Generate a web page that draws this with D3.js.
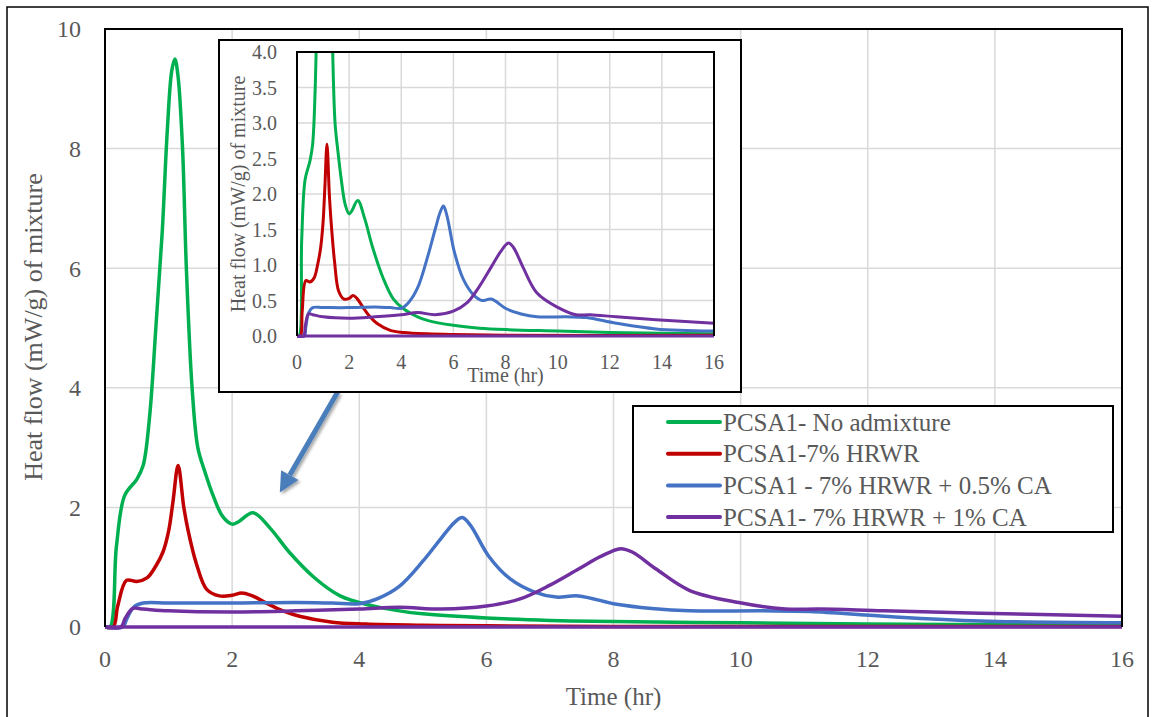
<!DOCTYPE html>
<html>
<head>
<meta charset="utf-8">
<script src="https://cdn.jsdelivr.net/npm/d3@7"></script>
<style>
  body { margin: 0; background: #fff; }
  text { font-family: "Liberation Serif", "Times New Roman", serif; fill: #595959; }
</style>
</head>
<body>
<script>

// data: [time (hr), heat flow (mW/g)]
var noAdmix = [[0,0],[0.08,0],[0.18,1.35],[0.31,2.2],[0.5,2.47],[0.6,2.7],[0.7,3.5],[0.8,5],[0.9,6.6],[0.98,8.3],[1.05,9.3],[1.1,9.5],[1.15,9.2],[1.22,8],[1.28,6],[1.37,4],[1.46,3.0],[1.57,2.6],[1.7,2.2],[1.85,1.85],[2.0,1.72],[2.1,1.76],[2.33,1.91],[2.6,1.65],[2.9,1.25],[3.3,0.82],[3.7,0.52],[4.1,0.38],[4.63,0.27],[5,0.22],[6,0.15],[7,0.11],[8,0.09],[10,0.07],[12,0.05],[14,0.04],[16,0.03]];
var hrwr = [[0,0],[0.13,0],[0.2,0.35],[0.34,0.78],[0.5,0.76],[0.66,0.82],[0.8,1.02],[0.91,1.25],[1.0,1.6],[1.07,2.1],[1.15,2.7],[1.24,2.0],[1.31,1.6],[1.44,1.05],[1.6,0.63],[1.8,0.52],[2.0,0.53],[2.15,0.57],[2.3,0.53],[2.54,0.4],[2.8,0.27],[3.06,0.18],[3.58,0.08],[4.1,0.05],[5,0.03],[6,0.02],[8,0.01],[16,0.01]];
var ca05 = [[0,0],[0.28,0],[0.34,0.13],[0.45,0.33],[0.6,0.4],[1,0.4],[2,0.4],[3,0.41],[3.58,0.4],[4.0,0.39],[4.3,0.48],[4.63,0.68],[5.0,1.1],[5.3,1.5],[5.5,1.75],[5.62,1.83],[5.75,1.7],[6.04,1.18],[6.38,0.8],[6.77,0.58],[7.1,0.5],[7.45,0.52],[8.05,0.38],[8.6,0.31],[9.2,0.27],[10.35,0.27],[11.1,0.26],[12.25,0.18],[13.77,0.1],[16,0.07]];
var ca1 = [[0,0],[0.25,0],[0.32,0.15],[0.44,0.31],[0.6,0.3],[1,0.27],[2,0.25],[3,0.27],[4,0.3],[4.63,0.33],[5.3,0.3],[6,0.35],[6.53,0.47],[7,0.7],[7.45,0.97],[7.8,1.18],[8.11,1.31],[8.3,1.25],[8.67,0.97],[9.2,0.61],[9.97,0.41],[10.7,0.3],[11.25,0.3],[12.25,0.27],[13.77,0.23],[16,0.18]];
var ca1Base = [[0,0],[16,0]];

var seriesNames = ["PCSA1- No admixture", "PCSA1-7% HRWR", "PCSA1 - 7% HRWR + 0.5% CA", "PCSA1- 7% HRWR + 1% CA"];
var seriesColors = ["#00b050", "#c00000", "#4472c4", "#7030a0"];
var seriesData = [noAdmix, hrwr, ca05, ca1];

var xTicks = [0, 2, 4, 6, 8, 10, 12, 14, 16];
var yTicksMain = [0, 2, 4, 6, 8, 10];
var yTicksInset = [0, 0.5, 1, 1.5, 2, 2.5, 3, 3.5, 4];

var W = 1153, H = 717;

var svg = d3.select("body").append("svg")
	.attr("width", W)
	.attr("height", H);

var defs = svg.append("defs");
var shadow = defs.append("filter").attr("id", "shadow").attr("x", "-50%").attr("y", "-50%").attr("width", "200%").attr("height", "200%");
shadow.append("feDropShadow").attr("dx", 2).attr("dy", 2).attr("stdDeviation", 1.5).attr("flood-color", "#000").attr("flood-opacity", 0.35);

// outer frame
svg.append("rect")
	.attr("x", 7).attr("y", 7).attr("width", 1141).attr("height", 730)
	.attr("fill", "#fff").attr("stroke", "#000").attr("stroke-width", 1.5);

// draws one plot (grid, lines, border, tick labels)
function drawPlot(g, x, y, yTicks, yFmt, lw, fs, clipId) {
	var x0 = x.range()[0], x1 = x.range()[1];
	var y0 = y.range()[0], y1 = y.range()[1];

	g.selectAll(".gx").data(xTicks).enter().append("line")
		.attr("x1", function (d) { return x(d); }).attr("x2", function (d) { return x(d); })
		.attr("y1", y0).attr("y2", y1)
		.attr("stroke", "#d9d9d9").attr("stroke-width", 1.5);
	g.selectAll(".gy").data(yTicks).enter().append("line")
		.attr("x1", x0).attr("x2", x1)
		.attr("y1", function (d) { return y(d); }).attr("y2", function (d) { return y(d); })
		.attr("stroke", "#d9d9d9").attr("stroke-width", 1.5);

	defs.append("clipPath").attr("id", clipId).append("rect")
		.attr("x", x0).attr("y", y1 - 1).attr("width", x1 - x0).attr("height", y0 - y1 + 4);

	var line = d3.line()
		.x(function (d) { return x(d[0]); })
		.y(function (d) { return y(d[1]); })
		.curve(d3.curveCatmullRom.alpha(0.5));

	var lines = g.append("g").attr("clip-path", "url(#" + clipId + ")");
	seriesData.forEach(function (s, i) {
		lines.append("path").attr("d", line(s))
			.attr("fill", "none").attr("stroke", seriesColors[i])
			.attr("stroke-width", lw).attr("stroke-linejoin", "round");
	});
	lines.append("path").attr("d", line(ca1Base))
		.attr("fill", "none").attr("stroke", seriesColors[3]).attr("stroke-width", lw);

	// black border: top, left, right
	g.append("path")
		.attr("d", "M" + x0 + "," + y0 + "V" + y1 + "H" + x1 + "V" + y0)
		.attr("fill", "none").attr("stroke", "#000").attr("stroke-width", 2);

	g.selectAll(".ty").data(yTicks).enter().append("text")
		.attr("x", x0 - (fs * 1.0)).attr("y", function (d) { return y(d); })
		.attr("dy", "0.35em").attr("text-anchor", "end")
		.style("font-size", fs + "px")
		.text(yFmt);
	g.selectAll(".tx").data(xTicks).enter().append("text")
		.attr("x", function (d) { return x(d); }).attr("y", y0 + fs * 1.65)
		.attr("text-anchor", "middle")
		.style("font-size", fs + "px")
		.text(function (d) { return d; });
}

// main chart
var xMain = d3.scaleLinear().domain([0, 16]).range([105, 1122]);
var yMain = d3.scaleLinear().domain([0, 10]).range([627, 29]);
var gMain = svg.append("g");
drawPlot(gMain, xMain, yMain, yTicksMain, function (d) { return d; }, 3.5, 24, "clipMain");

svg.append("text")
	.attr("x", (105 + 1122) / 2).attr("y", 705)
	.attr("text-anchor", "middle").style("font-size", "25px")
	.text("Time (hr)");
svg.append("text")
	.attr("transform", "translate(42,327) rotate(-90)")
	.attr("text-anchor", "middle").style("font-size", "26px")
	.text("Heat flow (mW/g) of mixture");

// legend
var legend = svg.append("g");
legend.append("rect")
	.attr("x", 633).attr("y", 406).attr("width", 480).attr("height", 126)
	.attr("fill", "#fff").attr("stroke", "#000").attr("stroke-width", 2);
seriesNames.forEach(function (name, i) {
	var ly = 422 + i * 31.7;
	legend.append("line")
		.attr("x1", 668).attr("x2", 720).attr("y1", ly).attr("y2", ly)
		.attr("stroke", seriesColors[i]).attr("stroke-width", 4).attr("stroke-linecap", "round");
	legend.append("text")
		.attr("x", 723).attr("y", ly).attr("dy", "0.35em")
		.style("font-size", "25px")
		.text(name);
});

// arrow pointing at the early peaks
var ax0 = xMain(3.66), ay0 = yMain(3.93), ax1 = xMain(2.75), ay1 = yMain(2.25);
var ang = Math.atan2(ay1 - ay0, ax1 - ax0);
var headL = 20, headW = 10;
var bx = ax1 - headL * Math.cos(ang), by = ay1 - headL * Math.sin(ang);
var arrow = svg.append("g").attr("filter", "url(#shadow)");
arrow.append("line")
	.attr("x1", ax0).attr("y1", ay0).attr("x2", bx).attr("y2", by)
	.attr("stroke", "#4a7ebb").attr("stroke-width", 5);
arrow.append("path")
	.attr("d", "M" + ax1 + "," + ay1 +
		"L" + (bx + headW * Math.sin(ang)) + "," + (by - headW * Math.cos(ang)) +
		"L" + (bx - headW * Math.sin(ang)) + "," + (by + headW * Math.cos(ang)) + "Z")
	.attr("fill", "#4a7ebb");

// inset chart
svg.append("rect")
	.attr("x", 219).attr("y", 40).attr("width", 522).attr("height", 352)
	.attr("fill", "#fff").attr("stroke", "#000").attr("stroke-width", 2);
var xIn = d3.scaleLinear().domain([0, 16]).range([297, 714]);
var yIn = d3.scaleLinear().domain([0, 4]).range([336, 52]);
var gIn = svg.append("g");
drawPlot(gIn, xIn, yIn, yTicksInset, function (d) { return d.toFixed(1); }, 3, 20, "clipInset");

svg.append("text")
	.attr("x", (297 + 714) / 2).attr("y", 382)
	.attr("text-anchor", "middle").style("font-size", "20px")
	.text("Time (hr)");
svg.append("text")
	.attr("transform", "translate(245,194) rotate(-90)")
	.attr("text-anchor", "middle").style("font-size", "20px")
	.text("Heat flow (mW/g) of mixture");

</script>
</body>
</html>
